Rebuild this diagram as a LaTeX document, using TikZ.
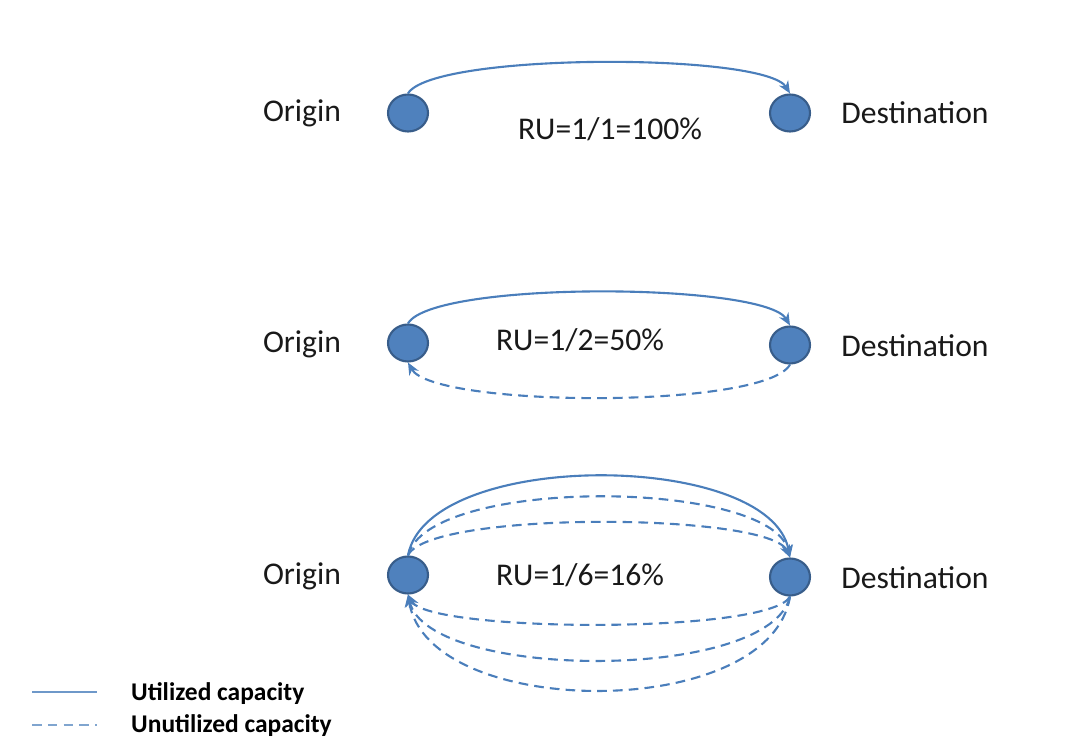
\documentclass[tikz,border=0pt]{standalone}
\usepackage{fontspec}
\setmainfont{Carlito}
\usetikzlibrary{arrows.meta,shapes.geometric}
\definecolor{nodefill}{HTML}{4F81BD}
\definecolor{nodeedge}{HTML}{385D8A}
\definecolor{linkblue}{HTML}{4A7EBB}
\tikzset{
  site/.style={ellipse,draw=nodeedge,fill=nodefill,line width=1.2pt,minimum width=0.8cm,minimum height=0.74cm,inner sep=0pt},
  lbl/.style={font=\fontsize{18}{20}\selectfont,text=black!90},
  used/.style={draw=linkblue,line width=1.2pt,-{Stealth[length=7pt,width=6pt]}},
  spare/.style={used,dash pattern=on 5.5pt off 3.5pt},
  legtxt/.style={font=\bfseries\fontsize{14.5}{16}\selectfont,anchor=west,text=black}
}
\begin{document}
\begin{tikzpicture}[x=0.02cm,y=-0.02cm]
\useasboundingbox (0,0) rectangle (1072,749);

% row 1
\node[site] (o1) at (408,113) {};
\node[site] (d1) at (790,113) {};
\node[lbl] (o1t) at (302,113) {Origin};
\node[lbl] (d1t) at (915,113) {Destination};
\node[lbl] (r1) at (610,129) {RU=1/1=100\%};
\draw[used] (o1.north) .. controls +(25,-41) and +(-25,-41) .. (d1.north);

% row 2
\node[site] (o2) at (408,343) {};
\node[site] (d2) at (790,345) {};
\node[lbl] (o2t) at (302,344) {Origin};
\node[lbl] (d2t) at (915,346) {Destination};
\node[lbl] (r2) at (580,340) {RU=1/2=50\%};
\draw[used] (o2.north) .. controls +(25,-43) and +(-25,-43) .. (d2.north);
\draw[spare] (d2.south) .. controls +(-25,45) and +(25,45) .. (o2.south);

% row 3
\node[site] (o3) at (408,575) {};
\node[site] (d3) at (790,577) {};
\node[lbl] (o3t) at (302,576) {Origin};
\node[lbl] (d3t) at (915,578) {Destination};
\node[lbl] (r3) at (580,575) {RU=1/6=16\%};
\draw[used] (o3.north) .. controls +(20,-107) and +(-20,-107) .. (d3.north);
\draw[spare] (o3.north) .. controls +(20,-79) and +(-20,-79) .. (d3.north);
\draw[spare] (o3.north) .. controls +(20,-45) and +(-20,-45) .. (d3.north);
\draw[spare] (d3.south) .. controls +(-20,38) and +(20,38) .. (o3.south);
\draw[spare] (d3.south) .. controls +(-20,86) and +(20,86) .. (o3.south);
\draw[spare] (d3.south) .. controls +(-20,126) and +(20,126) .. (o3.south);

% legend
\coordinate (l1a) at (32,692);
\coordinate (l1b) at (97,692);
\coordinate (l2a) at (32,725);
\coordinate (l2b) at (97,725);
\draw[linkblue!80,line width=1.2pt] (l1a) -- (l1b);
\draw[linkblue!70,line width=1.2pt,dash pattern=on 5.5pt off 3.5pt] (l2a) -- (l2b);
\node[legtxt] (k1) at (125,694) {Utilized capacity};
\node[legtxt] (k2) at (125,726) {Unutilized capacity};
\end{tikzpicture}
\end{document}
